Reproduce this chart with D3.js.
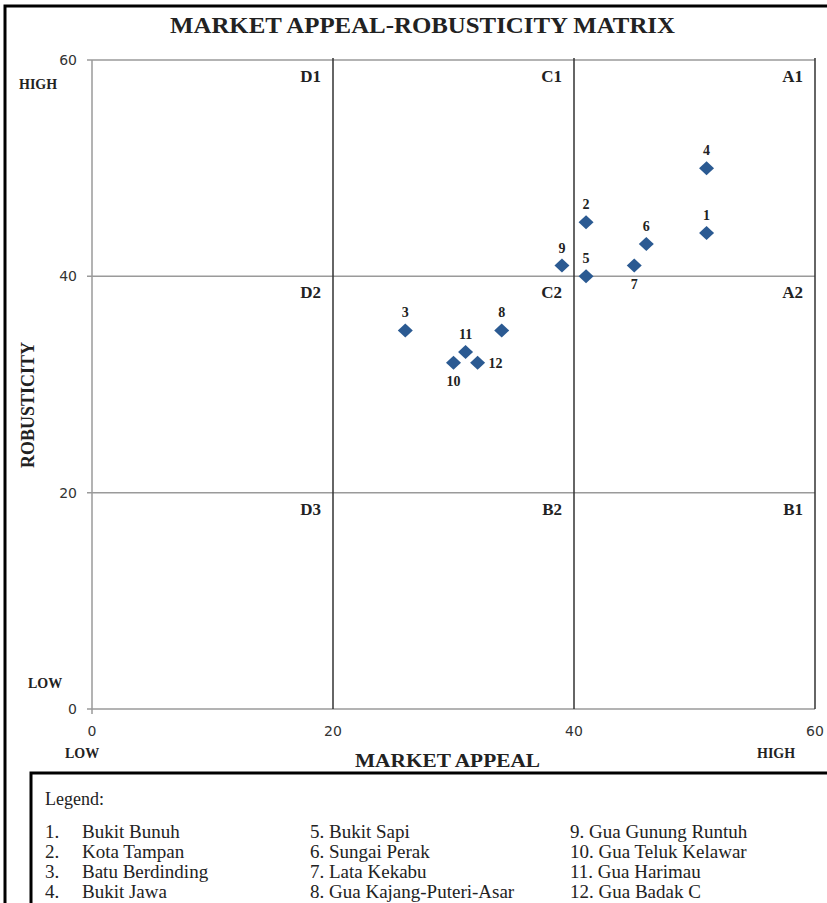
<!DOCTYPE html>
<head>
  <meta charset="utf-8">
  <title>Market Appeal-Robusticity Matrix</title>
  <script src="https://cdn.jsdelivr.net/npm/d3@7"></script>
  <style>
    body { margin: 0; background: #fff; }
    text { font-family: "Liberation Serif", "DejaVu Serif", serif; fill: #222; }
  </style>
</head>
<body>
<script>
    // data
    var siteIds = [1, 2, 3, 4, 5, 6, 7, 8, 9, 10, 11, 12];
    var siteNames = ["Bukit Bunuh", "Kota Tampan", "Batu Berdinding", "Bukit Jawa",
        "Bukit Sapi", "Sungai Perak", "Lata Kekabu", "Gua Kajang-Puteri-Asar",
        "Gua Gunung Runtuh", "Gua Teluk Kelawar", "Gua Harimau", "Gua Badak C"];
    var marketAppeal = [51, 41, 26, 51, 41, 46, 45, 34, 39, 30, 31, 32];
    var robusticity = [44, 45, 35, 50, 40, 43, 41, 35, 41, 32, 33, 32];
    var tickValues = [0, 20, 40, 60];
    var quadrants = [
        ["D1", 20, 60], ["C1", 40, 60], ["A1", 60, 60],
        ["D2", 20, 40], ["C2", 40, 40], ["A2", 60, 40],
        ["D3", 20, 20], ["B2", 40, 20], ["B1", 60, 20]
    ];

    // where the number sits next to each point
    var labelSide = ["top", "top", "top", "top", "top", "top", "bottom", "top", "top", "bottom", "top", "right"];

    var W = 827, H = 903;
    var x = d3.scaleLinear().domain([0, 60]).range([92, 815]);
    var y = d3.scaleLinear().domain([0, 60]).range([709, 60]);

    var svg = d3.select("body").append("svg")
        .attr("width", W).attr("height", H);

    // outer frame
    svg.append("rect")
        .attr("x", 5).attr("y", 6).attr("width", 900).attr("height", 950)
        .attr("fill", "none").attr("stroke", "#000").attr("stroke-width", 3);

    svg.append("text")
        .attr("x", 170).attr("y", 33)
        .attr("textLength", 505).attr("lengthAdjust", "spacingAndGlyphs")
        .style("font-size", "24px").style("font-weight", "bold")
        .text("MARKET  APPEAL-ROBUSTICITY MATRIX");

    // horizontal lines (grey)
    svg.selectAll(".hline").data(tickValues).enter().append("line")
        .attr("x1", x(0) - 5).attr("x2", x(60))
        .attr("y1", function(d) { return y(d); })
        .attr("y2", function(d) { return y(d); })
        .attr("stroke", "#9a9a9a").attr("stroke-width", 1.5);

    // y axis line
    svg.append("line")
        .attr("x1", x(0)).attr("x2", x(0))
        .attr("y1", y(60)).attr("y2", y(0) + 5)
        .attr("stroke", "#9a9a9a").attr("stroke-width", 1.5);

    // vertical dividers (dark)
    svg.selectAll(".vline").data(tickValues.filter(function(d) { return d > 0; })).enter().append("line")
        .attr("x1", function(d) { return x(d); })
        .attr("x2", function(d) { return x(d); })
        .attr("y1", y(60) - 2).attr("y2", y(0))
        .attr("stroke", "#333").attr("stroke-width", 1.5);

    // tick labels
    svg.selectAll(".ytick").data(tickValues).enter().append("text")
        .attr("x", 77).attr("y", function(d) { return y(d) + 5; })
        .attr("text-anchor", "end")
        .style("font-family", "'DejaVu Sans', sans-serif").style("font-size", "14px").style("fill", "#333")
        .text(function(d) { return d; });

    svg.selectAll(".xtick").data(tickValues).enter().append("text")
        .attr("x", function(d) { return x(d); }).attr("y", 736)
        .attr("text-anchor", "middle")
        .style("font-family", "'DejaVu Sans', sans-serif").style("font-size", "14px").style("fill", "#333")
        .text(function(d) { return d; });

    // HIGH / LOW markers
    var smallBold = function(sel) {
        return sel.style("font-size", "14px").style("font-weight", "bold");
    };
    smallBold(svg.append("text").attr("x", 19).attr("y", 89).text("HIGH"));
    smallBold(svg.append("text").attr("x", 28).attr("y", 688).text("LOW"));
    smallBold(svg.append("text").attr("x", 65).attr("y", 758).text("LOW"));
    smallBold(svg.append("text").attr("x", 757).attr("y", 758).text("HIGH"));

    svg.append("text")
        .attr("x", 355).attr("y", 767)
        .attr("textLength", 185).attr("lengthAdjust", "spacingAndGlyphs")
        .style("font-size", "19px").style("font-weight", "bold")
        .text("MARKET APPEAL");

    svg.append("text")
        .attr("transform", "translate(34,405) rotate(-90)")
        .attr("text-anchor", "middle")
        .style("font-size", "18px").style("font-weight", "bold")
        .text("ROBUSTICITY");

    // quadrant names
    svg.selectAll(".quad").data(quadrants).enter().append("text")
        .attr("x", function(d) { return x(d[1]) - 12; })
        .attr("y", function(d) { return y(d[2]) + 22; })
        .attr("text-anchor", "end")
        .style("font-size", "17px").style("font-weight", "bold")
        .text(function(d) { return d[0]; });

    // points
    var pts = svg.selectAll(".pt").data(siteIds).enter().append("g")
        .attr("transform", function(d, i) {
            return "translate(" + x(marketAppeal[i]) + "," + y(robusticity[i]) + ")";
        });
    pts.append("path")
        .attr("d", "M0,-7L7.5,0L0,7L-7.5,0Z")
        .attr("fill", "#2b5a92");
    pts.append("text")
        .attr("x", function(d, i) { return labelSide[i] == "right" ? 11 : 0; })
        .attr("y", function(d, i) {
            if (labelSide[i] == "bottom") return 23;
            if (labelSide[i] == "right") return 5;
            return -13;
        })
        .attr("text-anchor", function(d, i) { return labelSide[i] == "right" ? "start" : "middle"; })
        .style("font-size", "14px").style("font-weight", "bold")
        .text(function(d) { return d; });

    // legend
    var lg = svg.append("g");
    lg.append("rect")
        .attr("x", 31).attr("y", 773).attr("width", 900).attr("height", 200)
        .attr("fill", "none").attr("stroke", "#000").attr("stroke-width", 3);
    lg.append("text").attr("x", 45).attr("y", 805)
        .style("font-size", "18px").text("Legend:");

    var colX = [45, 310, 570];
    siteIds.forEach(function(id, i) {
        var col = Math.floor(i / 4), row = i % 4;
        var ty = 838 + row * 20;
        if (col == 0) {
            lg.append("text").attr("x", colX[0]).attr("y", ty)
                .style("font-size", "19px").text(id + ".");
            lg.append("text").attr("x", 82).attr("y", ty)
                .style("font-size", "19px").text(siteNames[i]);
        } else {
            lg.append("text").attr("x", colX[col]).attr("y", ty)
                .style("font-size", "19px").text(id + ". " + siteNames[i]);
        }
    });
</script>
</body>
